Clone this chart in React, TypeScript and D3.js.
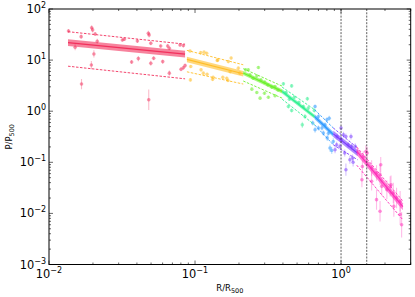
import * as d3 from 'd3';

// point data: [R/R500, P/P500, error in dex]
const redPts = [
  [0.0136, 37, 0.04], [0.0166, 28.8, 0.04], [0.0196, 43, 0.05], [0.0199, 39, 0.05],
  [0.0207, 32.5, 0.04], [0.0214, 23.4, 0.05], [0.0151, 17.9, 0.06], [0.0203, 13.2, 0.07],
  [0.0195, 8.0, 0.08], [0.0167, 3.4, 0.1], [0.0318, 24.8, 0.03], [0.0328, 25.6, 0.03],
  [0.0368, 9.2, 0.04], [0.0409, 10.7, 0.05], [0.0403, 23.7, 0.04], [0.0479, 33.5, 0.05],
  [0.0485, 31, 0.05], [0.0498, 21.4, 0.04], [0.0582, 18.9, 0.03], [0.065, 18.9, 0.04],
  [0.0667, 17, 0.04], [0.0789, 19.8, 0.03], [0.0832, 19.2, 0.03], [0.0498, 8.7, 0.05],
  [0.0521, 10.9, 0.04], [0.0601, 9.35, 0.04], [0.0667, 5.55, 0.05], [0.0802, 6.6, 0.04],
  [0.0832, 7.1, 0.04], [0.0855, 7.8, 0.04], [0.0482, 1.67, 0.2],
];
const yellowPts = [
  [0.0925, 15.1, 0.03], [0.0935, 7.5, 0.03], [0.093, 4.1, 0.03], [0.1094, 14, 0.03],
  [0.1153, 14.3, 0.03], [0.1202, 13.6, 0.03], [0.11, 6.45, 0.03], [0.114, 5.55, 0.03],
  [0.121, 5.3, 0.03], [0.132, 4.2, 0.03], [0.133, 4.6, 0.03], [0.142, 9.8, 0.03],
  [0.143, 10.1, 0.03], [0.155, 4.6, 0.03], [0.165, 4.4, 0.03], [0.169, 9.35, 0.03],
  [0.1767, 11, 0.03], [0.174, 5.95, 0.03], [0.198, 6.95, 0.03], [0.203, 5.55, 0.03],
  [0.168, 4.0, 0.03],
];
const greenPts = [
  [0.222, 6.45, 0.03], [0.238, 5.15, 0.03], [0.2716, 7.15, 0.03], [0.265, 4.9, 0.03],
  [0.283, 4.1, 0.03], [0.315, 3.28, 0.03], [0.335, 2.96, 0.03], [0.353, 3.04, 0.03],
  [0.245, 2.7, 0.03], [0.265, 2.32, 0.03], [0.299, 2.25, 0.03], [0.318, 1.88, 0.03],
  [0.279, 1.8, 0.03], [0.353, 2.0, 0.03], [0.2317, 6.45, 0.03], [0.25, 4.4, 0.03],
  [0.3, 3.7, 0.03], [0.37, 2.6, 0.03],
];
const springPts = [
  [0.403, 3.43, 0.03], [0.459, 3.13, 0.03], [0.42, 2.32, 0.03], [0.479, 1.88, 0.03],
  [0.515, 1.48, 0.04], [0.552, 1.24, 0.04], [0.597, 1.15, 0.04], [0.436, 1.24, 0.04],
  [0.459, 1.03, 0.04], [0.543, 0.54, 0.06], [0.566, 0.79, 0.05], [0.656, 1.03, 0.04],
  [0.443, 1.72, 0.03], [0.588, 1.75, 0.04],
];
const bluePts = [
  [0.64, 0.586, 0.05], [0.7, 0.468, 0.05], [0.757, 0.373, 0.05], [0.777, 0.54, 0.05],
  [0.805, 0.3, 0.06], [0.885, 0.256, 0.06], [0.664, 0.434, 0.06], [0.84, 0.19, 0.07],
  [0.864, 0.17, 0.07], [0.664, 1.24, 0.04], [0.7, 0.79, 0.05], [0.8, 0.68, 0.05],
  [0.83, 0.73, 0.05], [0.74, 0.47, 0.05], [0.82, 0.37, 0.05],
];
const purplePts = [
  [1.04, 0.346, 0.06], [1.08, 0.32, 0.06], [1.0, 0.276, 0.06], [0.933, 0.221, 0.06],
  [0.984, 0.205, 0.06], [1.12, 0.221, 0.06], [1.18, 0.205, 0.06], [1.25, 0.205, 0.06],
  [0.91, 0.176, 0.07], [1.15, 0.112, 0.08], [1.21, 0.1, 0.08], [1.06, 0.152, 0.07],
  [1.08, 0.0716, 0.12], [1.0, 0.47, 0.05], [1.17, 0.32, 0.06], [0.94, 0.32, 0.06],
  [1.2, 0.121, 0.07],
];
const magentaPts = [
  [1.51, 0.152, 0.12], [1.42, 0.13, 0.1], [1.48, 0.163, 0.12], [1.62, 0.0774, 0.15],
  [1.75, 0.0618, 0.15], [1.39, 0.0457, 0.15], [1.62, 0.0424, 0.18], [1.85, 0.0573, 0.2],
  [1.87, 0.0897, 0.15], [1.9, 0.0338, 0.18], [2.06, 0.029, 0.18], [2.17, 0.0338, 0.2],
  [2.2, 0.0363, 0.18], [2.28, 0.025, 0.2], [2.4, 0.0201, 0.2], [2.54, 0.0173, 0.2],
  [1.75, 0.0186, 0.2], [1.85, 0.011, 0.2], [2.54, 0.0095, 0.2], [2.6, 0.006, 0.25],
  [1.4, 0.083, 0.12], [2.3, 0.0137, 0.2],
];
const pointSets = [redPts, yellowPts, greenPts, springPts, bluePts, purplePts, magentaPts];

// piecewise fits
const segX0 = [0.0135, 0.088, 0.214, 0.395, 0.66, 0.885, 1.28];
const segX1 = [0.0855, 0.214, 0.395, 0.66, 0.885, 1.3, 2.65];
const fitY0 = [22, 10.3, 5.6, 2.44, 0.78, 0.36, 0.165];
const fitY1 = [13.1, 5.4, 2.44, 0.78, 0.35, 0.15, 0.0135];
const bandDex = [0.065, 0.055, 0.04, 0.04, 0.05, 0.06, 0.07];
const upperY0 = [36, 15.5, 6.8, 2.96, 1.07, 0.47, 0.2];
const upperY1 = [20.5, 8.1, 3.1, 1.07, 0.47, 0.19, 0.0175];
const lowerY0 = [7.6, 5.9, 3.9, 1.72, 0.54, 0.22, 0.088];
const lowerY1 = [4.3, 3.4, 1.8, 0.54, 0.22, 0.112, 0.0075];

const vLines = [1, 1.5];
const xMajor = [0.01, 0.1, 1];
const xMajorExp = ['\u22122', '\u22121', '0'];
const yMajor = [1e-3, 1e-2, 1e-1, 1, 10, 100];
const yMajorExp = ['\u22123', '\u22122', '\u22121', '0', '1', '2'];

const segColors = ['#f2305c', '#ffbe28', '#6cf02c', '#2cf08e', '#2c98ff', '#7a3cff', '#ff2cb8'];

const width = 415;
const height = 297;
const margin = { top: 9, right: 4.3, bottom: 32.5, left: 49 };
const font = 'DejaVu Sans, sans-serif';

export default function App() {
  const x = d3.scaleLog().domain([0.01, 3]).range([margin.left, width - margin.right]);
  const y = d3.scaleLog().domain([1e-3, 1e2]).range([height - margin.bottom, margin.top]);
  const [x0, x1] = x.range();
  const [yb, yt] = y.range();

  const xMinor: number[] = [];
  [0.01, 0.1, 1].forEach((d) => {
    for (let k = 2; k <= 9; k++) if (d * k <= 3) xMinor.push(d * k);
  });
  const yMinor: number[] = [];
  [1e-3, 1e-2, 1e-1, 1, 10].forEach((d) => {
    for (let k = 2; k <= 9; k++) yMinor.push(d * k);
  });

  const bandPath = (i: number) => {
    const f = Math.pow(10, bandDex[i]);
    return `M${x(segX0[i])},${y(fitY0[i] * f)}L${x(segX1[i])},${y(fitY1[i] * f)}` +
      `L${x(segX1[i])},${y(fitY1[i] / f)}L${x(segX0[i])},${y(fitY0[i] / f)}Z`;
  };

  return (
    <svg width={width} height={height} style={{ position: 'absolute', left: 0, top: 0 }}>
      <rect width={width} height={height} fill='white' />
      <defs>
        <clipPath id='plot'>
          <rect x={x0} y={yt} width={x1 - x0} height={yb - yt} />
        </clipPath>
      </defs>
      <g clipPath='url(#plot)'>
        {pointSets.map((pts, i) => (
          <g key={'p' + i} fill={segColors[i]} stroke={segColors[i]}>
            {pts.map((d, j) => (
              <g key={j}>
                <line
                  x1={x(d[0])}
                  x2={x(d[0])}
                  y1={y(d[1] * Math.pow(10, d[2]))}
                  y2={y(d[1] / Math.pow(10, d[2]))}
                  strokeWidth={1.1}
                  strokeOpacity={0.32}
                />
                <circle cx={x(d[0])} cy={y(d[1])} r={1.8} stroke='none' fillOpacity={0.5} />
              </g>
            ))}
          </g>
        ))}
        {segColors.map((c, i) => (
          <g key={'s' + i}>
            <path d={bandPath(i)} fill={c} fillOpacity={0.6} />
            <line x1={x(segX0[i])} y1={y(fitY0[i])} x2={x(segX1[i])} y2={y(fitY1[i])}
              stroke={c} strokeWidth={1.2} />
            <line x1={x(segX0[i])} y1={y(upperY0[i])} x2={x(segX1[i])} y2={y(upperY1[i])}
              stroke={c} strokeWidth={0.9} strokeDasharray='2.5,1.5' />
            <line x1={x(segX0[i])} y1={y(lowerY0[i])} x2={x(segX1[i])} y2={y(lowerY1[i])}
              stroke={c} strokeWidth={0.9} strokeDasharray='2.5,1.5' />
          </g>
        ))}
        {vLines.map((v) => (
          <line key={v} x1={x(v)} x2={x(v)} y1={yt} y2={yb}
            stroke='#333' strokeWidth={0.8} strokeDasharray='2,1.3' />
        ))}
      </g>

      {/* ticks, inward on all four sides */}
      <g stroke='black' strokeWidth={0.6}>
        {xMajor.map((d) => (
          <g key={'xM' + d}>
            <line x1={x(d)} x2={x(d)} y1={yb} y2={yb - 4} />
            <line x1={x(d)} x2={x(d)} y1={yt} y2={yt + 4} />
          </g>
        ))}
        {xMinor.map((d) => (
          <g key={'xm' + d}>
            <line x1={x(d)} x2={x(d)} y1={yb} y2={yb - 2} />
            <line x1={x(d)} x2={x(d)} y1={yt} y2={yt + 2} />
          </g>
        ))}
        {yMajor.map((d) => (
          <g key={'yM' + d}>
            <line x1={x0} x2={x0 + 4} y1={y(d)} y2={y(d)} />
            <line x1={x1} x2={x1 - 4} y1={y(d)} y2={y(d)} />
          </g>
        ))}
        {yMinor.map((d) => (
          <g key={'ym' + d}>
            <line x1={x0} x2={x0 + 2} y1={y(d)} y2={y(d)} />
            <line x1={x1} x2={x1 - 2} y1={y(d)} y2={y(d)} />
          </g>
        ))}
      </g>
      <rect x={x0} y={yt} width={x1 - x0} height={yb - yt} fill='none' stroke='black' strokeWidth={1} />

      <g fontFamily={font} fill='black'>
        {xMajor.map((d, i) => (
          <text key={'xl' + d} x={x(d)} y={yb + 13.5} fontSize={11.4} textAnchor='middle'>
            10<tspan dy={-5} fontSize={8}>{xMajorExp[i]}</tspan>
          </text>
        ))}
        {yMajor.map((d, i) => (
          <text key={'yl' + d} x={x0 - 3} y={y(d) + 4} fontSize={11.4} textAnchor='end'>
            10<tspan dy={-5} fontSize={8}>{yMajorExp[i]}</tspan>
          </text>
        ))}
        <text x={(x0 + x1) / 2} y={291} fontSize={8.5} textAnchor='middle'>
          R/R<tspan dy={2} fontSize={6.5}>500</tspan>
        </text>
        <text
          transform={`translate(12,${(yt + yb) / 2}) rotate(-90)`}
          fontSize={8.5}
          textAnchor='middle'
        >
          P/P<tspan dy={2} fontSize={6.5}>500</tspan>
        </text>
      </g>
    </svg>
  );
}
